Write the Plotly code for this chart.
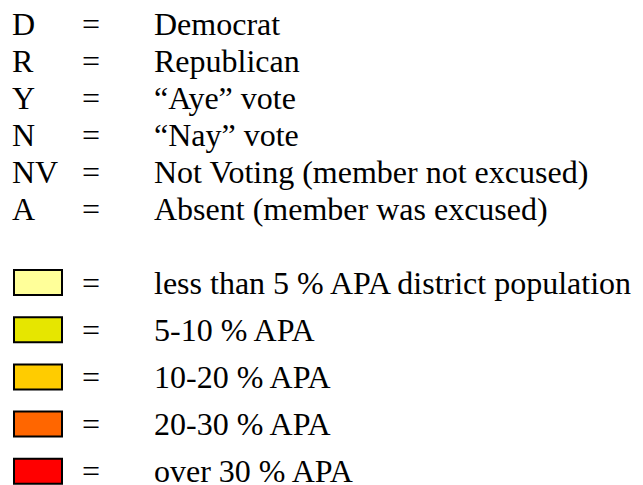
import plotly.graph_objects as go

codes = ["D", "R", "Y", "N", "NV", "A"]
meanings = ["Democrat", "Republican", "\u201cAye\u201d vote", "\u201cNay\u201d vote",
            "Not Voting (member not excused)", "Absent (member was excused)"]
bin_labels = ["less than 5 % APA district population", "5-10 % APA", "10-20 % APA",
              "20-30 % APA", "over 30 % APA"]
bin_colors = ["#FFFF99", "#E6E600", "#FFCC00", "#FF6600", "#FF0000"]

FONT = dict(family="Liberation Serif, Times New Roman, serif", size=32, color="black")

# page body has an 8px margin; use page pixel coordinates as data coordinates
OFF = 8
fig = go.Figure()
fig.add_trace(go.Scatter(x=[OFF, 643], y=[OFF, 485], mode="markers", marker=dict(opacity=0),
                         hoverinfo="skip", showlegend=False))

row1_y0, row1_dy = 23.5, 37.1
for i, (c, m) in enumerate(zip(codes, meanings)):
    y = row1_y0 + row1_dy * i
    fig.add_annotation(x=10, y=y, text=c, showarrow=False, xanchor="left", yanchor="middle", font=FONT)
    fig.add_annotation(x=80, y=y, text="=", showarrow=False, xanchor="left", yanchor="middle", font=FONT)
    fig.add_annotation(x=152, y=y, text=m, showarrow=False, xanchor="left", yanchor="middle", font=FONT)

row2_y0, row2_dy = 282.5, 47.2
for i, (lab, col) in enumerate(zip(bin_labels, bin_colors)):
    y = row2_y0 + row2_dy * i
    fig.add_shape(type="rect", x0=14, x1=62, y0=y - 12.5, y1=y + 12.5,
                  fillcolor=col, line=dict(color="black", width=2))
    fig.add_annotation(x=80, y=y, text="=", showarrow=False, xanchor="left", yanchor="middle", font=FONT)
    fig.add_annotation(x=152, y=y, text=lab, showarrow=False, xanchor="left", yanchor="middle", font=FONT)

fig.update_layout(width=643 - OFF, height=485 - OFF, margin=dict(l=0, r=0, t=0, b=0),
                  paper_bgcolor="white", plot_bgcolor="white",
                  xaxis=dict(range=[OFF, 643], visible=False, fixedrange=True),
                  yaxis=dict(range=[485, OFF], visible=False, fixedrange=True),
                  showlegend=False)
fig.write_html("out.html")
